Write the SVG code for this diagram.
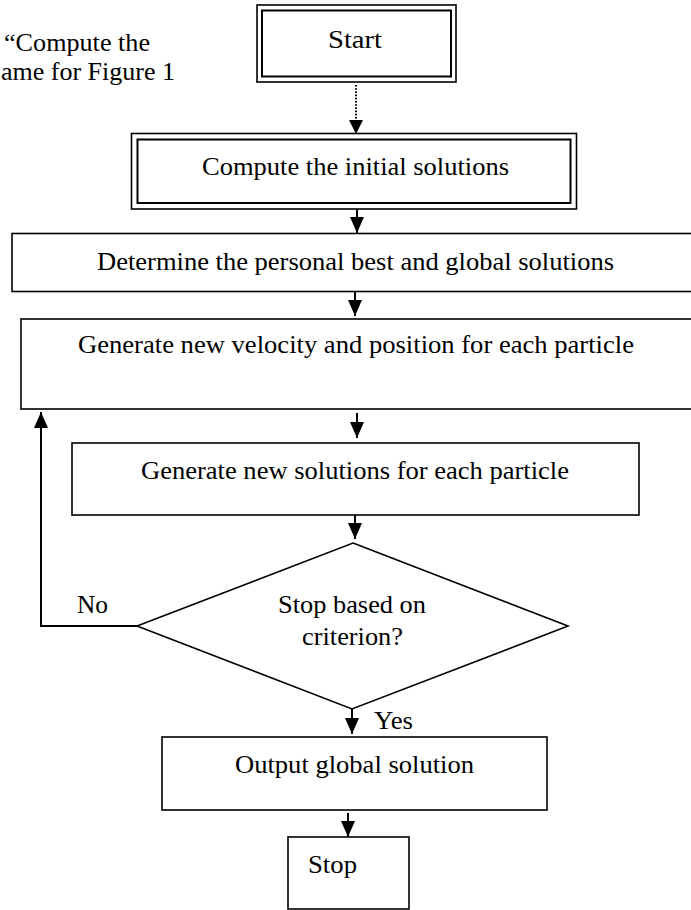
<svg xmlns="http://www.w3.org/2000/svg" width="691" height="910" viewBox="0 0 691 910">
<defs>
<marker id="ah" viewBox="0 0 16 14" refX="16" refY="7" markerWidth="16" markerHeight="14" markerUnits="userSpaceOnUse" orient="auto">
<path d="M0,0 L16,7 L0,14 z" fill="#000"/>
</marker>
<style>
.box{fill:#fff;stroke:#000;stroke-width:1.6}
.ibox{fill:none;stroke:#000;stroke-width:2}
.t{font-family:"Liberation Serif","Times New Roman",Times,serif;font-size:25px;fill:#000}
.c{fill:none;stroke:#000;stroke-width:2}
</style>
</defs>
<rect width="691" height="910" fill="#fff"/>
<text class="t" x="4" y="51" textLength="146" lengthAdjust="spacingAndGlyphs">“Compute the</text>
<text class="t" x="1" y="80" textLength="174" lengthAdjust="spacingAndGlyphs">ame for Figure 1</text>
<g id="start">
<rect class="box" x="257" y="5" width="199" height="77"/>
<rect class="ibox" x="262" y="10.5" width="189" height="66"/>
<text class="t" x="328" y="48" textLength="54" lengthAdjust="spacingAndGlyphs">Start</text>
</g>
<g id="init">
<rect class="box" x="131.5" y="133.5" width="445" height="75.5"/>
<rect class="ibox" x="137.5" y="139.5" width="433" height="63.5"/>
<text class="t" x="202" y="175" textLength="307" lengthAdjust="spacingAndGlyphs">Compute the initial solutions</text>
</g>
<g id="determine">
<rect class="box" x="12" y="233.5" width="700" height="58"/>
<text class="t" x="97" y="270" textLength="517" lengthAdjust="spacingAndGlyphs">Determine the personal best and global solutions</text>
</g>
<g id="velocity">
<rect class="box" x="21" y="319" width="700" height="90"/>
<text class="t" x="78" y="353" textLength="556" lengthAdjust="spacingAndGlyphs">Generate new velocity and position for each particle</text>
</g>
<g id="newsol">
<rect class="box" x="72" y="443" width="567" height="72"/>
<text class="t" x="141" y="479" textLength="428" lengthAdjust="spacingAndGlyphs">Generate new solutions for each particle</text>
</g>
<g id="decision">
<polygon class="box" points="353,543 568,626 352,709 137,626"/>
<text class="t" x="278" y="613" textLength="148" lengthAdjust="spacingAndGlyphs">Stop based on</text>
<text class="t" x="302" y="645" textLength="101" lengthAdjust="spacingAndGlyphs">criterion?</text>
</g>
<g id="output">
<rect class="box" x="162" y="737" width="385" height="73"/>
<text class="t" x="235" y="773" textLength="239" lengthAdjust="spacingAndGlyphs">Output global solution</text>
</g>
<g id="stop">
<rect class="box" x="288" y="837" width="121" height="72"/>
<text class="t" x="308" y="873" textLength="49" lengthAdjust="spacingAndGlyphs">Stop</text>
</g>
<g id="connectors">
<line x1="356" y1="85" x2="356" y2="121" stroke="#000" stroke-width="2" stroke-dasharray="1.6 1.6"/>
<path d="M349,120 L363,120 L356,134 z" fill="#000"/>
<line class="c" x1="357" y1="209" x2="357" y2="233" marker-end="url(#ah)"/>
<line class="c" x1="355" y1="292" x2="355" y2="316" marker-end="url(#ah)"/>
<line class="c" x1="357" y1="413" x2="357" y2="438" marker-end="url(#ah)"/>
<line class="c" x1="355" y1="515" x2="355" y2="539" marker-end="url(#ah)"/>
<line class="c" x1="352" y1="709" x2="352" y2="734" marker-end="url(#ah)"/>
<line class="c" x1="348" y1="813" x2="348" y2="837" marker-end="url(#ah)"/>
<path class="c" d="M137,626 H41 V412" marker-end="url(#ah)"/>
<text class="t" x="77" y="613" textLength="31" lengthAdjust="spacingAndGlyphs">No</text>
<text class="t" x="374" y="729" textLength="39" lengthAdjust="spacingAndGlyphs">Yes</text>
</g>
</svg>
